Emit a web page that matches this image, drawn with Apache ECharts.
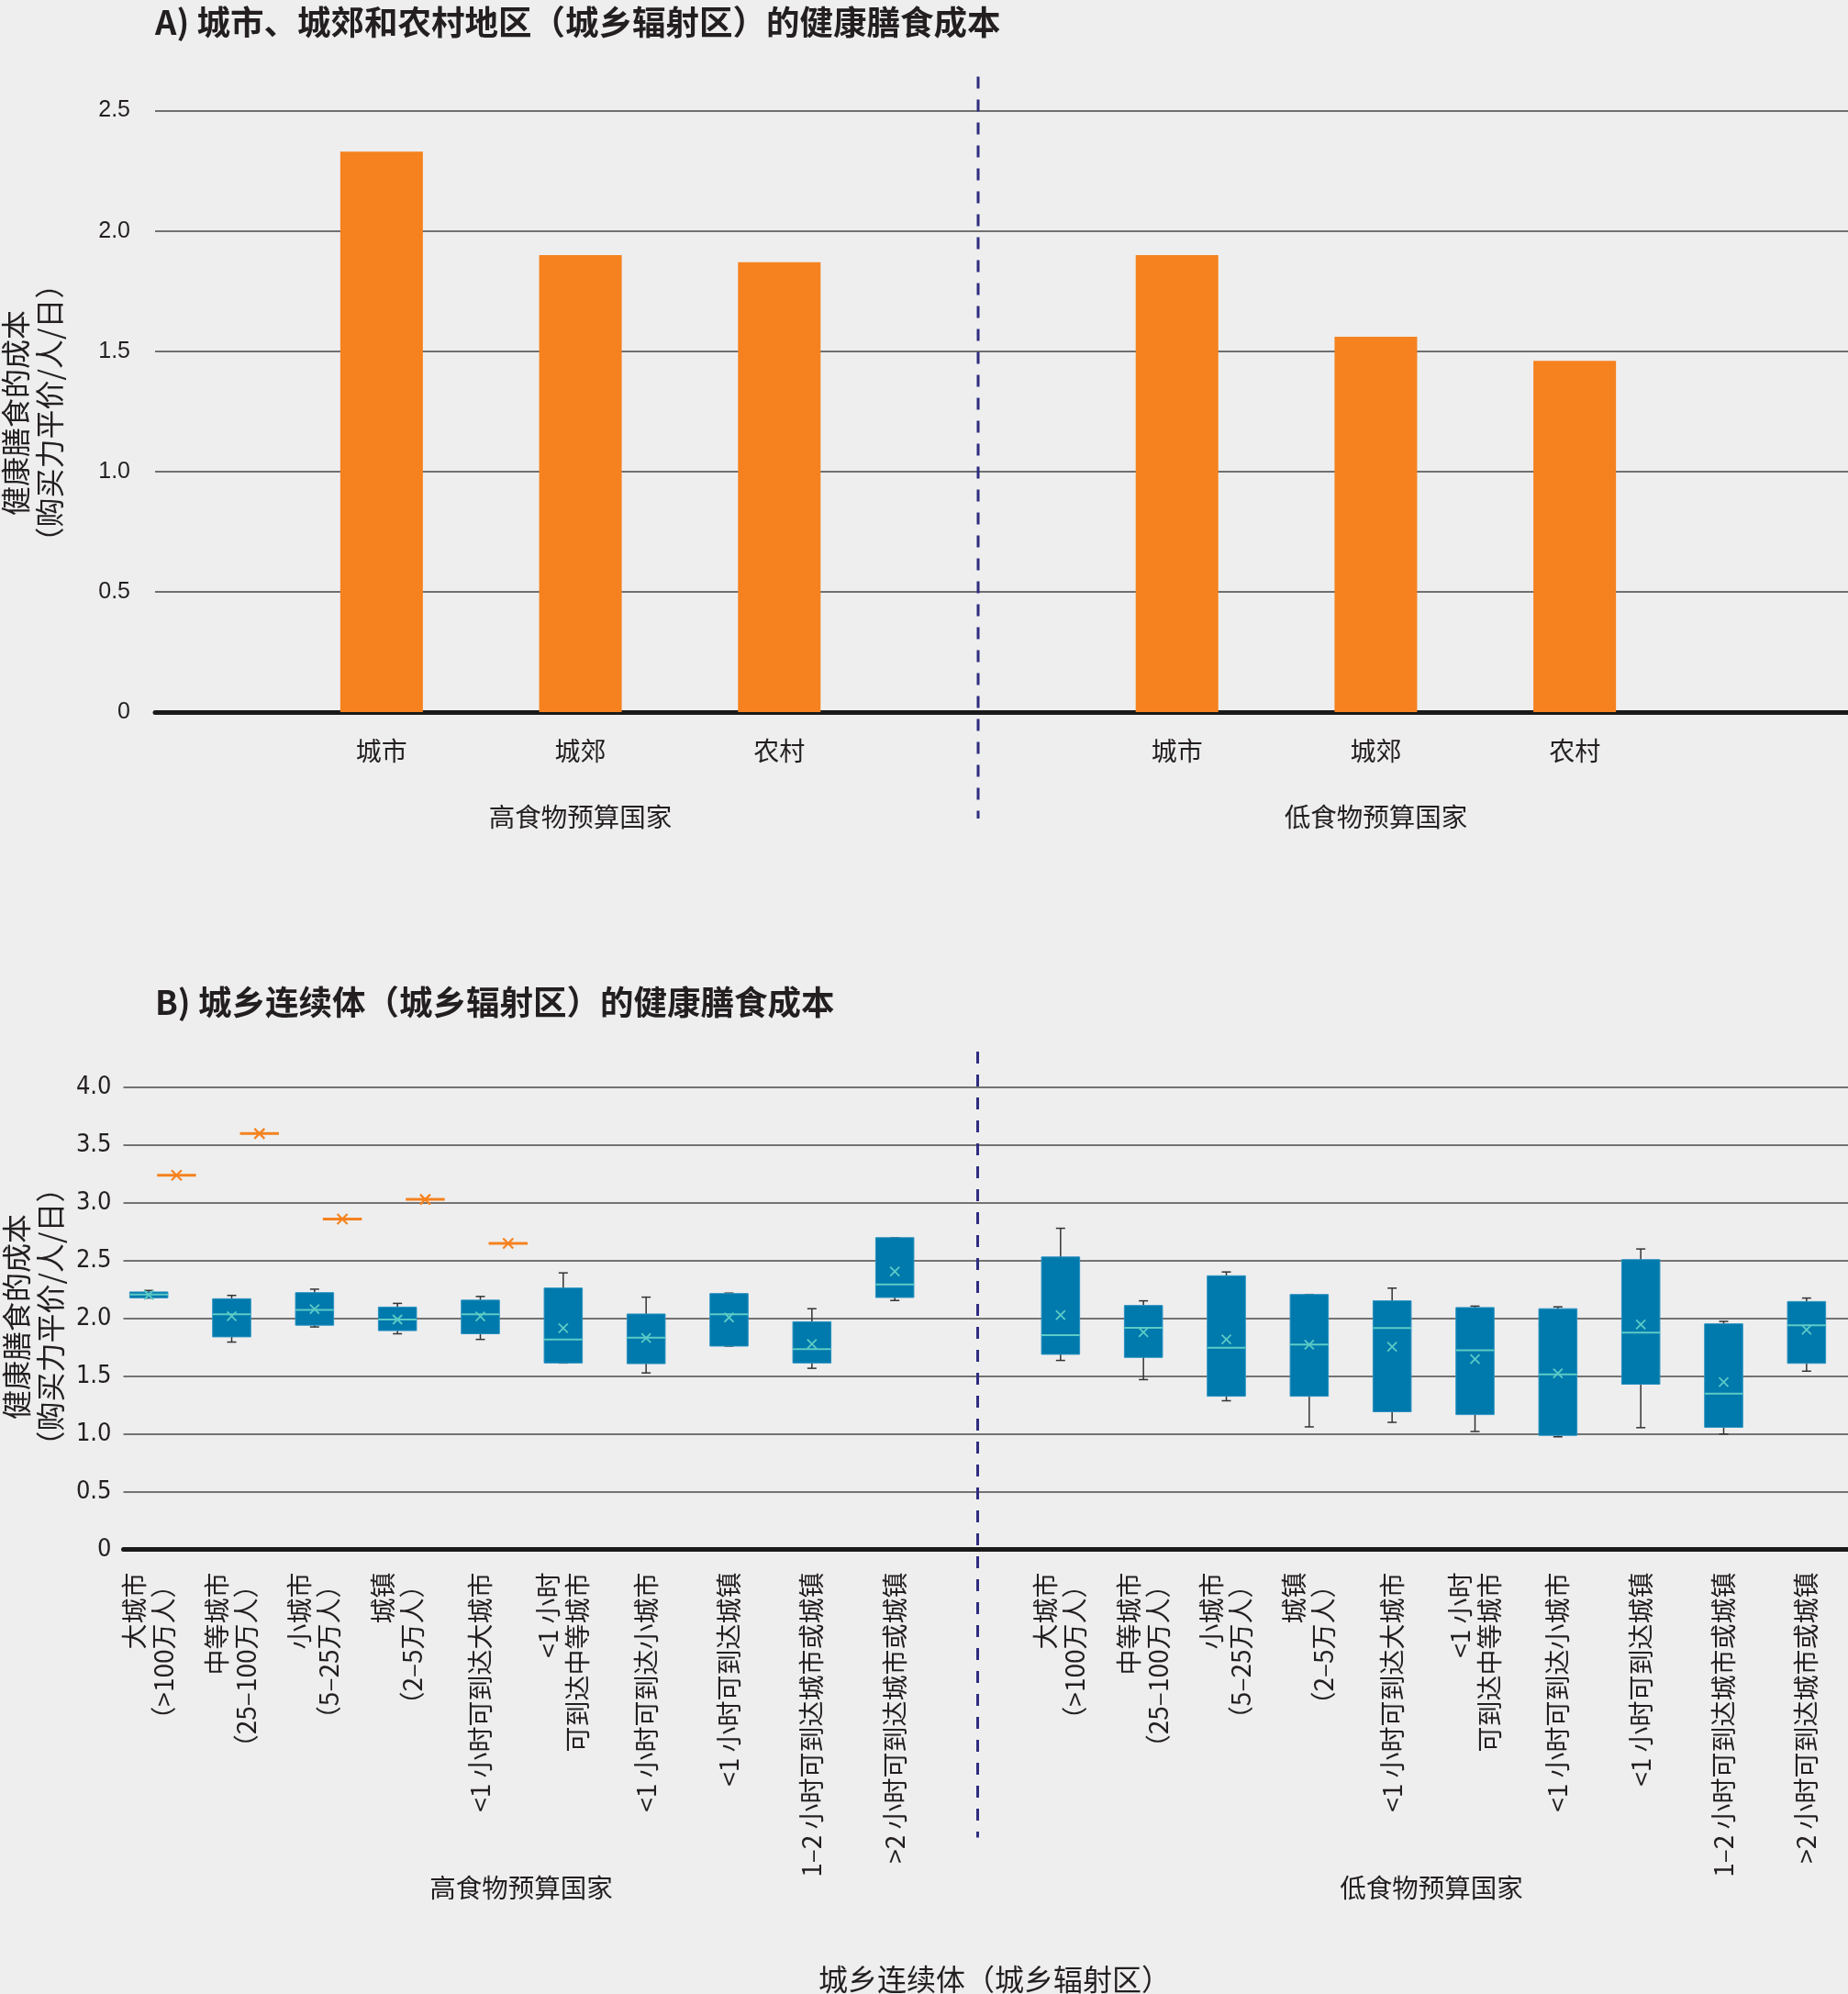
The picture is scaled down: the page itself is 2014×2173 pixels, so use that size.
<!DOCTYPE html>
<html><head><meta charset="utf-8">
<script src="https://cdn.jsdelivr.net/npm/echarts@6/dist/echarts.min.js"></script>
<style>html,body{margin:0;padding:0;background:#eeeeee;}#c{width:2014px;height:2173px;}</style>
</head><body><div id="c"></div>
<script>
// ---------- Panel A data ----------
const groupNames = ['高食物预算国家', '低食物预算国家'];
const areaLabelsA = ['城市', '城郊', '农村'];
const costHighA = [2.33, 1.90, 1.87];
const costLowA = [1.90, 1.56, 1.46];
const yTicksA = ['0', '0.5', '1.0', '1.5', '2.0', '2.5'];
const titleA = 'A) 城市、城郊和农村地区（城乡辐射区）的健康膳食成本';

// ---------- Panel B data ----------
const continuumLabelsB = [
  '大城市\n（>100万人）',
  '中等城市\n（25–100万人）',
  '小城市\n（5–25万人）',
  '城镇\n（2–5万人）',
  '<1 小时可到达大城市',
  '<1 小时\n可到达中等城市',
  '<1 小时可到达小城市',
  '<1 小时可到达城镇',
  '1–2 小时可到达城市或城镇',
  '>2 小时可到达城市或城镇'
];
const highMin    = [2.176, 1.795, 1.926, 1.867, 1.818, 1.614, 1.528, 1.760, 1.568, 2.155];
const highQ1     = [2.178, 1.840, 1.941, 1.894, 1.867, 1.614, 1.608, 1.760, 1.614, 2.181];
const highMedian = [2.207, 2.035, 2.074, 1.990, 2.035, 1.818, 1.834, 2.035, 1.733, 2.293];
const highQ3     = [2.229, 2.170, 2.223, 2.098, 2.158, 2.263, 2.038, 2.215, 1.971, 2.699];
const highMax    = [2.242, 2.199, 2.253, 2.130, 2.190, 2.394, 2.184, 2.219, 2.084, 2.699];
const highMean   = [2.203, 2.019, 2.080, 1.990, 2.017, 1.916, 1.830, 2.008, 1.779, 2.407];
const highOther  = [3.24, 3.60, 2.86, 3.03, 2.65];

const lowMin    = [1.636, 1.470, 1.287, 1.061, 1.100, 1.021, 0.975, 1.054, 0.999, 1.543];
const lowQ1     = [1.689, 1.662, 1.326, 1.326, 1.192, 1.167, 0.987, 1.430, 1.057, 1.611];
const lowMedian = [1.856, 1.918, 1.745, 1.773, 1.916, 1.724, 1.516, 1.877, 1.348, 1.941];
const lowQ3     = [2.532, 2.112, 2.369, 2.207, 2.152, 2.094, 2.084, 2.509, 1.953, 2.146];
const lowMax    = [2.780, 2.152, 2.402, 2.207, 2.262, 2.106, 2.100, 2.601, 1.974, 2.176];
const lowMean   = [2.029, 1.880, 1.818, 1.773, 1.754, 1.647, 1.525, 1.947, 1.449, 1.901];

const yTicksB = ['0', '0.5', '1.0', '1.5', '2.0', '2.5', '3.0', '3.5', '4.0'];
const titleB = 'B) 城乡连续体（城乡辐射区）的健康膳食成本';
const axisTitleB = '城乡连续体（城乡辐射区）';
const yTitle = '健康膳食的成本\n（购买力平价/人/日）';

// ---------- build ----------
const CJK = '"Noto Sans CJK SC", "Noto Sans", sans-serif';
const NUM = '"Liberation Sans", Arial, sans-serif';
const NUMN = '"Liberation Sans Narrow", "DejaVu Sans Condensed", "Liberation Sans", sans-serif';
const TXT = '#231f20';

const keysA = [...areaLabelsA.map((_, i) => 'h' + i), 'gap', ...areaLabelsA.map((_, i) => 'l' + i)];
const labelA = k => k === 'gap' ? '' : areaLabelsA[+k.slice(1)];
const barDataA = [...costHighA, '-', ...costLowA];

const nH = continuumLabelsB.length;
const keysB = [...continuumLabelsB.map((_, i) => 'h' + i), 'gap', ...continuumLabelsB.map((_, i) => 'l' + i)];
const labelB = k => k === 'gap' ? '' : continuumLabelsB[+k.slice(1)];

const boxData = [];
highMin.forEach((_, i) => boxData.push([i, highMin[i], highQ1[i], highMedian[i], highQ3[i], highMax[i], highMean[i]]));
lowMin.forEach((_, i) => boxData.push([nH + 1 + i, lowMin[i], lowQ1[i], lowMedian[i], lowQ3[i], lowMax[i], lowMean[i]]));
const otherData = highOther.map((v, i) => [i, v]);

const grpCenterA = [(areaLabelsA.length - 1) / 2, areaLabelsA.length + 1 + (areaLabelsA.length - 1) / 2];
const grpCenterB = [(nH - 1) / 2, nH + 1 + (nH - 1) / 2];
function grpFormatter(centers) {
  return v => {
    for (let g = 0; g < centers.length; g++) if (Math.abs(v - centers[g]) < 1e-6) return groupNames[g];
    return '';
  };
}

const BOX = '#0079ac', MED = '#5ccbc6', WHISK = '#333333', ORANGE = '#f5821f';

function renderBox(params, api) {
  const x = api.value(0);
  const pMin = api.coord([x, api.value(1)]);
  const pQ1 = api.coord([x, api.value(2)]);
  const pMed = api.coord([x, api.value(3)]);
  const pQ3 = api.coord([x, api.value(4)]);
  const pMax = api.coord([x, api.value(5)]);
  const pMean = api.coord([x, api.value(6)]);
  const cx = pQ1[0];
  const w = api.size([1, 0])[0] * 0.46;
  const cap = 5, m = 5;
  const ws = { stroke: WHISK, lineWidth: 1.5 };
  return {
    type: 'group',
    children: [
      { type: 'line', shape: { x1: cx, y1: pMax[1], x2: cx, y2: pMin[1] }, style: ws },
      { type: 'line', shape: { x1: cx - cap, y1: pMax[1], x2: cx + cap, y2: pMax[1] }, style: ws },
      { type: 'line', shape: { x1: cx - cap, y1: pMin[1], x2: cx + cap, y2: pMin[1] }, style: ws },
      { type: 'rect', shape: { x: cx - w / 2, y: pQ3[1], width: w, height: Math.max(pQ1[1] - pQ3[1], 1) },
        style: { fill: BOX, stroke: '#2a92c0', lineWidth: 1 } },
      { type: 'line', shape: { x1: cx - w / 2, y1: pMed[1], x2: cx + w / 2, y2: pMed[1] }, style: { stroke: MED, lineWidth: 2 } },
      { type: 'line', shape: { x1: cx - m, y1: pMean[1] - m, x2: cx + m, y2: pMean[1] + m }, style: { stroke: MED, lineWidth: 1.8 } },
      { type: 'line', shape: { x1: cx - m, y1: pMean[1] + m, x2: cx + m, y2: pMean[1] - m }, style: { stroke: MED, lineWidth: 1.8 } }
    ]
  };
}
function renderOther(params, api) {
  const slot = api.size([1, 0])[0];
  const p = api.coord([api.value(0), api.value(1)]);
  const cx = p[0] + slot * 0.335, cy = p[1];
  const hw = slot * 0.235, m = 5.5;
  const st = { stroke: ORANGE, lineWidth: 2.2 };
  return {
    type: 'group',
    children: [
      { type: 'line', shape: { x1: cx - hw, y1: cy, x2: cx + hw, y2: cy }, style: { stroke: ORANGE, lineWidth: 3 } },
      { type: 'line', shape: { x1: cx - m, y1: cy - m, x2: cx + m, y2: cy + m }, style: st },
      { type: 'line', shape: { x1: cx - m, y1: cy + m, x2: cx + m, y2: cy - m }, style: st }
    ]
  };
}

const gA = { top: 120.6, height: 655.4 };
const gB = { top: 1185, height: 503.5 };
const hiddenY = (gi, max) => ({ gridIndex: gi, type: 'value', min: 0, max: max, show: false });

const option = {
  backgroundColor: '#eeeeee',
  animation: false,
  title: [
    { text: titleA, left: 169, top: 4, padding: 0,
      textStyle: { fontFamily: CJK, fontSize: 36.5, fontWeight: 'bold', color: TXT, lineHeight: 40 } },
    { text: titleB, left: 169, top: 1072, padding: 0,
      textStyle: { fontFamily: CJK, fontSize: 36.5, fontWeight: 'bold', color: TXT, lineHeight: 40 } },
    { text: axisTitleB, left: 1084, textAlign: 'center', top: 2139, padding: 0,
      textStyle: { fontFamily: CJK, fontSize: 32, fontWeight: 'normal', color: TXT, lineHeight: 35 } }
  ],
  grid: [
    { left: 169, right: 0, top: gA.top, height: gA.height },
    { left: 307.5, width: 1517, top: gA.top, height: gA.height },
    { left: 307.5, width: 1517, top: gA.top, height: gA.height },
    { left: 134.5, right: 0, top: gB.top, height: gB.height },
    { left: 117, width: 1897, top: gB.top, height: gB.height },
    { left: 117, width: 1897, top: gB.top, height: gB.height }
  ],
  xAxis: [
    { gridIndex: 0, type: 'value', min: 0, max: 1,
      axisLine: { show: true, lineStyle: { color: '#1a1a1a', width: 5 } },
      axisTick: { show: false }, axisLabel: { show: false }, splitLine: { show: false } },
    { gridIndex: 1, type: 'category', data: keysA,
      axisLine: { show: false }, axisTick: { show: false },
      axisLabel: { interval: 0, margin: 28, formatter: labelA, fontFamily: CJK, fontSize: 28, color: TXT } },
    { gridIndex: 2, type: 'value', min: -0.5, max: keysA.length - 0.5, interval: 0.5,
      axisLine: { show: false }, axisTick: { show: false }, splitLine: { show: false },
      axisLabel: { margin: 100, formatter: grpFormatter(grpCenterA), fontFamily: CJK, fontSize: 28.5, color: TXT } },
    { gridIndex: 3, type: 'value', min: 0, max: 1,
      axisLine: { show: true, lineStyle: { color: '#1a1a1a', width: 5 } },
      axisTick: { show: false }, axisLabel: { show: false }, splitLine: { show: false } },
    { gridIndex: 4, type: 'category', data: keysB,
      axisLine: { show: false }, axisTick: { show: false },
      axisLabel: { interval: 0, rotate: 90, margin: 25, formatter: labelB, fontFamily: CJK, fontSize: 28, lineHeight: 32, color: TXT } },
    { gridIndex: 5, type: 'value', min: -0.5, max: keysB.length - 0.5, interval: 0.5,
      axisLine: { show: false }, axisTick: { show: false }, splitLine: { show: false },
      axisLabel: { margin: 354, formatter: grpFormatter(grpCenterB), fontFamily: CJK, fontSize: 28.5, color: TXT } }
  ],
  yAxis: [
    { gridIndex: 0, type: 'value', min: 0, max: 2.5, interval: 0.5,
      axisLine: { show: false }, axisTick: { show: false },
      splitLine: { lineStyle: { color: '#707070', width: 2 } },
      axisLabel: { margin: 27, formatter: v => yTicksA[Math.round(v / 0.5)], fontFamily: NUM, fontSize: 25, color: TXT } },
    hiddenY(1, 2.5),
    hiddenY(2, 2.5),
    { gridIndex: 3, type: 'value', min: 0, max: 4, interval: 0.5,
      axisLine: { show: false }, axisTick: { show: false },
      splitLine: { lineStyle: { color: '#4a4a4a', width: 1.6 } },
      axisLabel: { margin: 13, formatter: v => yTicksB[Math.round(v / 0.5)], fontFamily: NUMN, fontSize: 27, color: TXT } },
    hiddenY(4, 4),
    hiddenY(5, 4)
  ],
  series: [
    { type: 'bar', name: '健康膳食成本', xAxisIndex: 1, yAxisIndex: 1, data: barDataA,
      barWidth: 90, itemStyle: { color: ORANGE } },
    { type: 'custom', name: '城乡连续体', xAxisIndex: 4, yAxisIndex: 4, data: boxData,
      encode: { x: 0, y: [1, 2, 3, 4, 5, 6] }, renderItem: renderBox, z: 3 },
    { type: 'custom', name: '高食物预算国家（其他）', xAxisIndex: 4, yAxisIndex: 4, data: otherData,
      encode: { x: 0, y: 1 }, renderItem: renderOther, z: 3 }
  ],
  graphic: [
    { id: 'ytA', type: 'text', x: 35.5, y: 450, rotation: Math.PI / 2,
      style: { text: yTitle, fontFamily: CJK, fontSize: 32, lineHeight: 37, align: 'center', verticalAlign: 'middle', fill: TXT } },
    { id: 'ytB', type: 'text', x: 36, y: 1435, rotation: Math.PI / 2,
      style: { text: yTitle, fontFamily: CJK, fontSize: 32, lineHeight: 37, align: 'center', verticalAlign: 'middle', fill: TXT } }
  ]
};

const chart = echarts.init(document.getElementById('c'), null, { renderer: 'canvas', width: 2014, height: 2173 });
chart.setOption(option);

// dashed separators at the gap category of each panel
const dash = { stroke: '#2e2d80', lineWidth: 3, lineDash: [13, 12] };
const xA = chart.convertToPixel({ xAxisIndex: 1 }, 'gap');
const yA0 = chart.convertToPixel({ yAxisIndex: 0 }, 0);
const yAT = chart.convertToPixel({ yAxisIndex: 0 }, 2.5);
const xB = chart.convertToPixel({ xAxisIndex: 4 }, 'gap');
const yB0 = chart.convertToPixel({ yAxisIndex: 3 }, 0);
const yBT = chart.convertToPixel({ yAxisIndex: 3 }, 4);
chart.setOption({
  graphic: [
    { id: 'dashA', type: 'line', z: 50, shape: { x1: xA, y1: yAT - 37, x2: xA, y2: yA0 + 116 }, style: dash },
    { id: 'dashB', type: 'line', z: 50, shape: { x1: xB, y1: yBT - 39, x2: xB, y2: yB0 + 314 }, style: dash }
  ]
});
</script>
</body></html>
